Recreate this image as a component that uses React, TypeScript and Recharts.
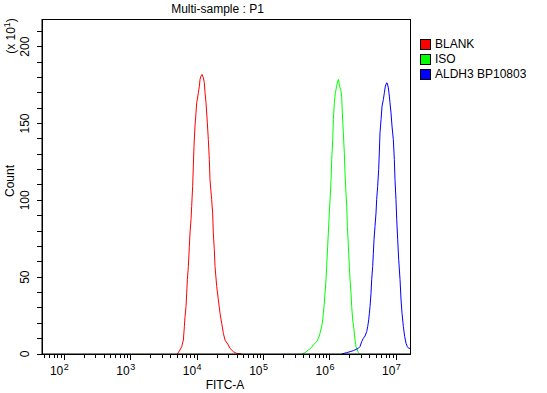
import { LineChart, Line, XAxis, YAxis, Legend, ReferenceArea } from 'recharts';

const FONT = '"Liberation Sans", Arial, sans-serif';

// axis ranges (x is log10 of FITC-A, y is count in units of 10)
const X_MIN = 1.664;
const X_MAX = 7.206;
const Y_MAX = 218;

const seriesNames = ['BLANK', 'ISO', 'ALDH3 BP10803'];
const seriesColors = ['#ff0000', '#00ff00', '#0000ff'];

const blankLog = [3.702, 3.742, 3.768, 3.793, 3.808, 3.818, 3.833, 3.843, 3.853, 3.868, 3.883, 3.893, 3.908, 3.918, 3.933, 3.943, 3.953, 3.968, 3.983, 3.994, 4.019, 4.034, 4.044, 4.059, 4.074, 4.094, 4.109, 4.119, 4.134, 4.154, 4.169, 4.184, 4.194, 4.219, 4.234, 4.244, 4.259, 4.27, 4.295, 4.32, 4.345, 4.37, 4.395, 4.42, 4.47, 4.495, 4.546, 4.596, 4.671];
const blankCount = [0, 2.6, 4.8, 9.1, 17.8, 24.3, 30.9, 39.6, 48.3, 56.9, 70, 78.7, 87.4, 96.1, 109.1, 122.2, 135.2, 148.3, 156.9, 163.5, 170, 174.3, 178.7, 180.9, 181.9, 179.8, 176.5, 170, 163.5, 150.4, 139.5, 126.5, 113.5, 100.4, 91.7, 78.7, 67.8, 56.9, 43.9, 35.2, 26.5, 20, 13.5, 9.1, 5.9, 3.7, 1.5, 0.4, 0];

const isoLog = [5.575, 5.625, 5.675, 5.725, 5.75, 5.801, 5.826, 5.851, 5.876, 5.891, 5.901, 5.911, 5.926, 5.941, 5.951, 5.966, 5.976, 5.991, 6.002, 6.017, 6.027, 6.042, 6.052, 6.067, 6.082, 6.102, 6.117, 6.132, 6.142, 6.162, 6.177, 6.187, 6.202, 6.217, 6.227, 6.242, 6.253, 6.263, 6.278, 6.293, 6.303, 6.318, 6.328, 6.343, 6.363, 6.378, 6.393, 6.413, 6.428, 6.453];
const isoCount = [0, 0.9, 2.6, 4.3, 5.9, 8, 10.2, 13.5, 17.8, 22.2, 26.5, 30.9, 39.6, 48.3, 56.9, 70, 78.7, 91.7, 100.4, 113.5, 126.5, 139.5, 152.6, 163.5, 170, 174.3, 177.6, 178.7, 174.3, 172.2, 167.8, 156.9, 143.9, 130.9, 117.8, 104.8, 96.1, 83, 70, 56.9, 48.3, 39.6, 30.9, 22.2, 15.7, 9.1, 4.8, 2.6, 0.9, 0];

const aldhLog = [6.177, 6.253, 6.303, 6.353, 6.393, 6.428, 6.453, 6.478, 6.503, 6.529, 6.554, 6.569, 6.584, 6.594, 6.604, 6.619, 6.629, 6.644, 6.654, 6.664, 6.679, 6.694, 6.704, 6.719, 6.734, 6.744, 6.754, 6.77, 6.785, 6.805, 6.82, 6.835, 6.855, 6.865, 6.88, 6.895, 6.905, 6.92, 6.935, 6.955, 6.97, 6.98, 6.995, 7.006, 7.021, 7.036, 7.056, 7.071, 7.086, 7.106, 7.126, 7.146, 7.166, 7.186, 7.206];
const aldhCount = [0, 0.9, 1.5, 2.2, 3, 3.7, 4.8, 8, 10.2, 11.7, 14.6, 17.8, 22.2, 26.5, 30.9, 39.6, 48.3, 56.9, 65.6, 74.3, 83, 91.7, 100.4, 109.1, 120, 130.9, 143.9, 152.6, 161.3, 165.6, 170, 174.3, 176.5, 176.1, 173.2, 167.8, 163.5, 156.9, 148.3, 139.5, 126.5, 113.5, 100.4, 87.4, 74.3, 61.3, 48.3, 35.2, 26.5, 17.8, 11.3, 7, 4.8, 3.7, 3.7];

const toPoints = (lg: number[], cnt: number[]) => lg.map((v, i) => ({ lg: v, count: cnt[i] }));
const series = [toPoints(blankLog, blankCount), toPoints(isoLog, isoCount), toPoints(aldhLog, aldhCount)];

// log ticks: 1..9 x 10^n inside the range
const xTicks: number[] = [];
for (let n = 1; n <= 7; n++) {
  for (let k = 1; k <= 9; k++) {
    const v = n + Math.log10(k);
    if (v >= X_MIN && v <= X_MAX) xTicks.push(v);
  }
}
const yTicks = Array.from({ length: 22 }, (_, i) => i * 10);

const XTick = ({ x, y, payload }: any) => {
  const v = payload.value;
  const major = Math.abs(v - Math.round(v)) < 1e-6;
  return (
    <g>
      <line x1={x} x2={x} y1={y} y2={y + (major ? 6 : 4)} stroke="#000" shapeRendering="crispEdges" />
      {major && (
        <g fontFamily={FONT} fill="#000">
          <text x={x - 1} y={y + 21} fontSize={12} textAnchor="end">10</text>
          <text x={x - 0.5} y={y + 15.5} fontSize={9} textAnchor="start">{Math.round(v)}</text>
        </g>
      )}
    </g>
  );
};

const YTick = ({ x, y, payload }: any) => {
  const v = payload.value;
  return (
    <g>
      <line x1={x - 5} x2={x} y1={y} y2={y} stroke="#000" shapeRendering="crispEdges" />
      {v % 50 === 0 && (
        <text x={29} y={y} transform={`rotate(-90 29 ${y})`} textAnchor="middle" fontSize={12} fontFamily={FONT} fill="#000">
          {v}
        </text>
      )}
    </g>
  );
};

const LegendBox = () => (
  <div style={{ fontFamily: FONT, fontSize: 12, color: '#000' }}>
    {seriesNames.map((name, i) => (
      <div key={name} style={{ display: 'flex', alignItems: 'center', height: 15 }}>
        <span style={{ width: 9, height: 9, background: seriesColors[i], border: '1px solid #000', marginRight: 4 }} />
        <span style={{ lineHeight: '15px', whiteSpace: 'nowrap' }}>{name}</span>
      </div>
    ))}
  </div>
);

export default function App() {
  return (
    <div style={{ position: 'absolute', left: 0, top: 0, width: 547, height: 393, background: '#fff' }}>
      <LineChart width={547} height={393} margin={{ top: 19, right: 137, left: 0, bottom: 0 }}>
        <XAxis
          type="number"
          dataKey="lg"
          domain={[X_MIN, X_MAX]}
          ticks={xTicks}
          interval={0}
          allowDataOverflow
          height={39}
          tickSize={0}
          tickMargin={0}
          tick={<XTick />}
          axisLine={{ stroke: '#000' }}
        />
        <YAxis
          type="number"
          dataKey="count"
          domain={[0, Y_MAX]}
          ticks={yTicks}
          interval={0}
          allowDataOverflow
          width={42}
          tickSize={0}
          tickMargin={0}
          tick={<YTick />}
          axisLine={{ stroke: '#000' }}
        />
        <ReferenceArea x1={X_MIN} x2={X_MAX} y1={0} y2={Y_MAX} fill="none" stroke="#000" strokeWidth={1} shapeRendering="crispEdges" />
        {series.map((pts, i) => (
          <Line
            key={seriesNames[i]}
            data={pts}
            dataKey="count"
            name={seriesNames[i]}
            type="linear"
            stroke={seriesColors[i]}
            strokeWidth={1}
            dot={false}
            isAnimationActive={false}
          />
        ))}
        <Legend
          layout="horizontal"
          verticalAlign="middle"
          content={<LegendBox />}
          wrapperStyle={{ left: 420, top: 37, width: 127, height: 50 }}
        />
      </LineChart>
      <svg width={547} height={393} style={{ position: 'absolute', left: 0, top: 0, pointerEvents: 'none' }} fontFamily={FONT} fill="#000">
        <text x={217.5} y={13} fontSize={12} textAnchor="middle">Multi-sample : P1</text>
        <text x={225} y={389} fontSize={12} textAnchor="middle">FITC-A</text>
        <text x={14} y={181} fontSize={12} textAnchor="middle" transform="rotate(-90 14 181)">Count</text>
        <text x={15} y={36} fontSize={12} textAnchor="middle" transform="rotate(-90 15 36)">
          (x 10<tspan fontSize={9} dy={-5}>1</tspan><tspan dy={5}>)</tspan>
        </text>
      </svg>
    </div>
  );
}
